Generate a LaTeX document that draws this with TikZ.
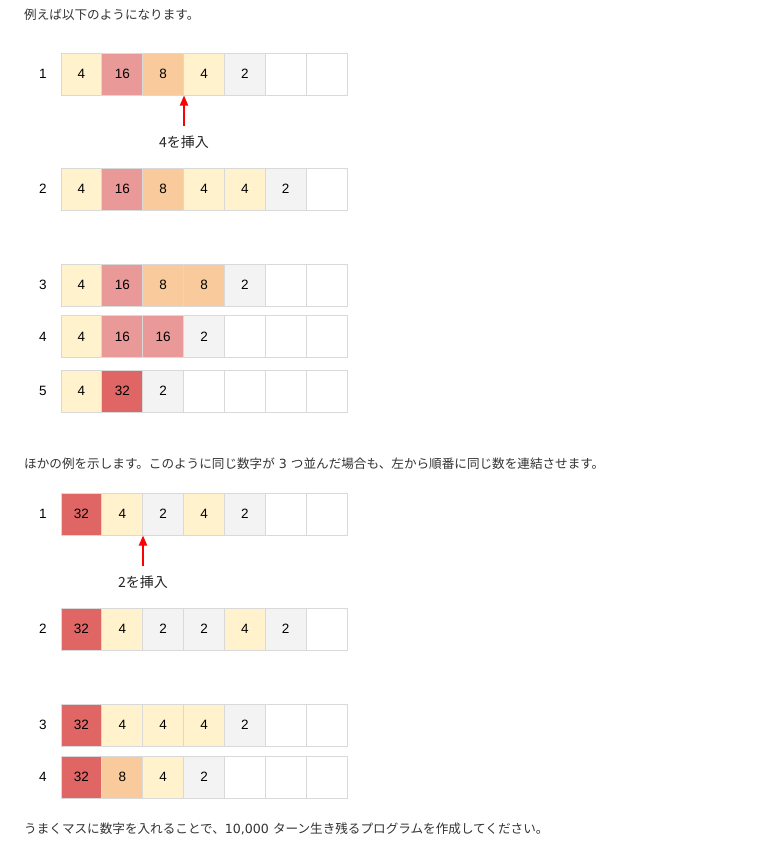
\documentclass[tikz,border=0pt]{standalone}
\usepackage{fontspec}
\setmainfont{Liberation Sans}
\newfontfamily\jp{Noto Sans CJK JP}
\newfontfamily\dv{DejaVu Sans}
\usetikzlibrary{arrows.meta}
\definecolor{cy}{HTML}{FFF2CC}
\definecolor{cp}{HTML}{EA9999}
\definecolor{co}{HTML}{F9CB9C}
\definecolor{cg}{HTML}{F3F3F3}
\definecolor{cr}{HTML}{E06666}
\definecolor{cw}{HTML}{FFFFFF}
\definecolor{cb}{HTML}{D9D9D9}
\definecolor{txt}{HTML}{333333}
\tikzset{
  cell/.style={draw=cb, line width=0.9pt, minimum width=40.86pt, minimum height=42pt,
    inner sep=0pt, font=\fontsize{13.5}{15}\selectfont, text=black},
  rowlab/.style={inner sep=0pt, font=\fontsize{13.5}{15}\selectfont, text=black},
  para/.style={anchor=west, inner sep=0pt, font=\jp\fontsize{12.6}{15}\selectfont, text=txt},
  inslab/.style={inner sep=1pt, font=\jp\fontsize{14}{16}\selectfont, text=black!85},
  insarrow/.style={draw=red, line width=1.8pt, -{Triangle[length=10pt,width=8pt]}}
}
\newcommand\cellrow[4]{%
  \node[rowlab] (#1l) at (43,#2) {#3};
  \foreach \v/\c [count=\i] in {#4} {
    \node[cell, fill=\c] (#1c\i) at ({61+40.86*(\i-0.5)},#2) {\v};
  }
}
\begin{document}
\begin{tikzpicture}[x=1pt,y=-1pt]
\useasboundingbox[fill=white] (0,0) rectangle (776,843);
\node[para] (t1) at (24,15) {例えば以下のようになります。};
\cellrow{a}{74}{1}{4/cy,16/cp,8/co,4/cy,2/cg,{}/cw,{}/cw}
\node[inslab] (ia) at (184,142) {4を挿入};
\coordinate (ta) at (184,95.5);
\coordinate (sa) at (184,126);
\draw[insarrow] (sa) -- (ta);
\cellrow{b}{189}{2}{4/cy,16/cp,8/co,4/cy,4/cy,2/cg,{}/cw}
\cellrow{c}{285}{3}{4/cy,16/cp,8/co,8/co,2/cg,{}/cw,{}/cw}
\cellrow{d}{336.5}{4}{4/cy,16/cp,16/cp,2/cg,{}/cw,{}/cw,{}/cw}
\cellrow{e}{391}{5}{4/cy,32/cr,2/cg,{}/cw,{}/cw,{}/cw,{}/cw}
\node[para] (t2) at (24,463.5) {ほかの例を示します。このように同じ数字が{\dv\ 3\ }つ並んだ場合も、左から順番に同じ数を連結させます。};
\cellrow{f}{514}{1}{32/cr,4/cy,2/cg,4/cy,2/cg,{}/cw,{}/cw}
\node[inslab] (ib) at (143,582) {2を挿入};
\coordinate (tb) at (143,535.5);
\coordinate (sb) at (143,566);
\draw[insarrow] (sb) -- (tb);
\cellrow{g}{629}{2}{32/cr,4/cy,2/cg,2/cg,4/cy,2/cg,{}/cw}
\cellrow{h}{725}{3}{32/cr,4/cy,4/cy,4/cy,2/cg,{}/cw,{}/cw}
\cellrow{k}{777}{4}{32/cr,8/co,4/cy,2/cg,{}/cw,{}/cw,{}/cw}
\node[para] (t3) at (24,828.5) {うまくマスに数字を入れることで、{\dv 10,000\ }ターン生き残るプログラムを作成してください。};
\end{tikzpicture}
\end{document}
